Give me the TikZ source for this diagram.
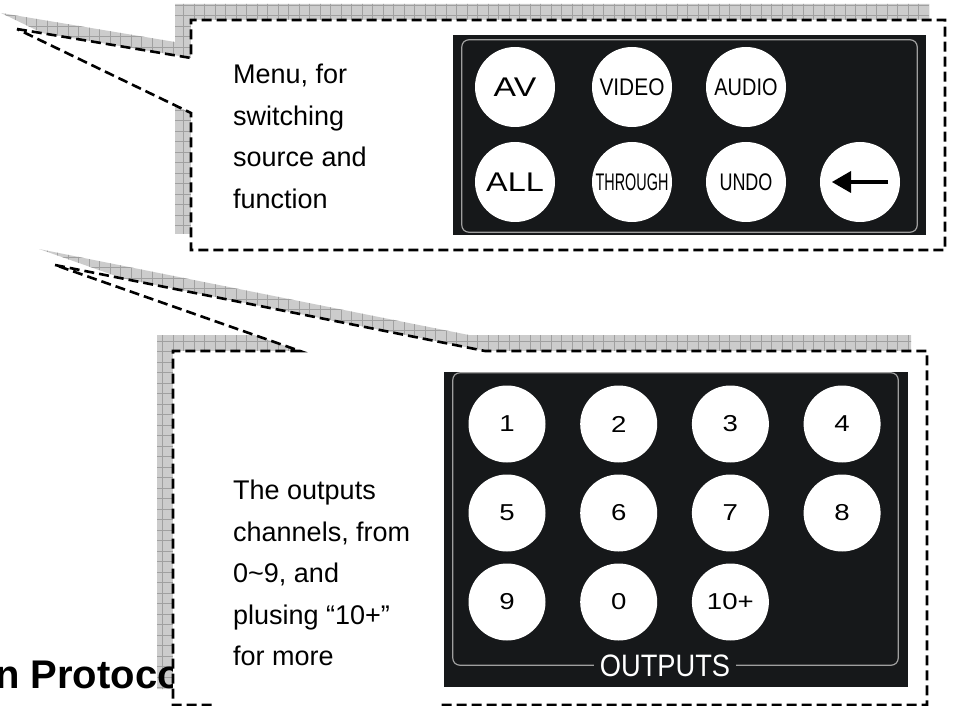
\documentclass[tikz,border=0pt]{standalone}
\usepackage{fontspec}
\setmainfont{Liberation Sans}
\usetikzlibrary{calc}
\definecolor{panelblack}{RGB}{22,24,26}
\definecolor{shadowgray}{RGB}{204,204,204}
\definecolor{gridgray}{RGB}{160,160,160}
\tikzstyle{outline}=[draw=black,fill=white,line width=2.6pt,dash pattern=on 10pt off 5pt]
\tikzstyle{gridline}=[draw=gridgray,line width=0.5pt]
\tikzstyle{panelbox}=[rectangle,fill=panelblack,inner sep=0pt]
\tikzstyle{innerline}=[draw=gray!75,line width=1.2pt,rounded corners=7pt]
\tikzstyle{key}=[circle,fill=white,inner sep=0pt,minimum size=80pt,font=\fontsize{24}{24}\selectfont]
\tikzstyle{numkey}=[circle,fill=white,inner sep=0pt,minimum size=77pt,font=\fontsize{23}{23}\selectfont]
\tikzstyle{note}=[align=left,inner sep=0pt,font=\fontsize{27}{41.5}\selectfont]
\newcommand{\callA}{(17,29) -- (191,58) -- (191,20) -- (945,20) -- (945,250) -- (191,250) -- (191,113) -- cycle}
\newcommand{\callB}{(55,265) -- (485,351) -- (927,351) -- (927,705) -- (173,705) -- (173,351) -- (300,351) -- cycle}
\newcommand{\castshadow}[1]{%
  \begin{scope}[shift={(-16,-16)}]
    \clip #1;
    \fill[shadowgray] (-60,-60) rectangle (1000,760);
    \draw[gridline] (-60,-60) grid[step=10.5pt] (1000,760);
  \end{scope}}

\begin{document}
\begin{tikzpicture}[x=1pt,y=-1pt]

  \useasboundingbox (0,0) rectangle (954,706);
  \clip (0,0) rectangle (954,706);

  % shadows of the two callouts
  \castshadow{\callA}
  \castshadow{\callB}

  \node[anchor=base west,inner sep=0pt,font=\bfseries\fontsize{40}{40}\selectfont] (heading) at (-5,688) {n Protocol};

  \path[outline] \callA;
  \path[outline] \callB;
  \fill[white] (216,699) rectangle (440,708);

  % menu panel
  \node[note,anchor=north west] (menutxt) at (233,64) {Menu, for\\switching\\source and\\function};

  \node[panelbox,minimum width=473pt,minimum height=200pt] (menu) at (689.5,135) {};
  \draw[innerline] ($(menu.south west)+(9,-3)$) rectangle ($(menu.north east)+(-9,5)$);

  \node[key] (av) at (515,87) {\scalebox{1.25}[1]{\fontsize{27}{27}\selectfont AV}};
  \node[key] (video) at (632,87) {\scalebox{0.87}[1]{VIDEO}};
  \node[key] (audio) at (746,87) {\scalebox{0.83}[1]{AUDIO}};
  \node[key] (all) at (515,182) {\scalebox{1.2}[1]{\fontsize{27}{27}\selectfont ALL}};
  \node[key] (through) at (632,182) {\scalebox{0.6}[1]{THROUGH}};
  \node[key] (undo) at (746,182) {\scalebox{0.75}[1]{UNDO}};
  \node[key] (back) at (860,182) {};
  \draw[line width=4.5pt] ($(back.center)+(28,0)$) -- ($(back.center)+(-12,0)$);
  \fill ($(back.center)+(-28,0)$) -- ($(back.center)+(-9,-11)$) -- ($(back.center)+(-9,11)$) -- cycle;

  % outputs panel
  \node[note,anchor=north west] (outtxt) at (233,480) {The outputs\\channels, from\\0\char`~9, and\\plusing “10+”\\for more};

  \node[panelbox,minimum width=464pt,minimum height=315pt] (outputs) at (676,529.5) {};
  \draw[innerline] ($(outputs.north west)+(9,1)$) rectangle ($(outputs.south east)+(-10,-22)$);

  \foreach \name/\txt/\c/\r in {k1/1/0/0,k2/2/1/0,k3/3/2/0,k4/4/3/0,
                               k5/5/0/1,k6/6/1/1,k7/7/2/1,k8/8/3/1,
                               k9/9/0/2,k0/0/1/2,k10/10+/2/2}
    \node[numkey] (\name) at (507+111.7*\c,424+89*\r) {\scalebox{1.2}[1]{\txt}};

  \node[text=white,fill=panelblack,inner xsep=6pt,inner ysep=2pt,font=\fontsize{31}{31}\selectfont] (outlbl) at (665,666) {\scalebox{0.88}[1]{OUTPUTS}};

\end{tikzpicture}
\end{document}
